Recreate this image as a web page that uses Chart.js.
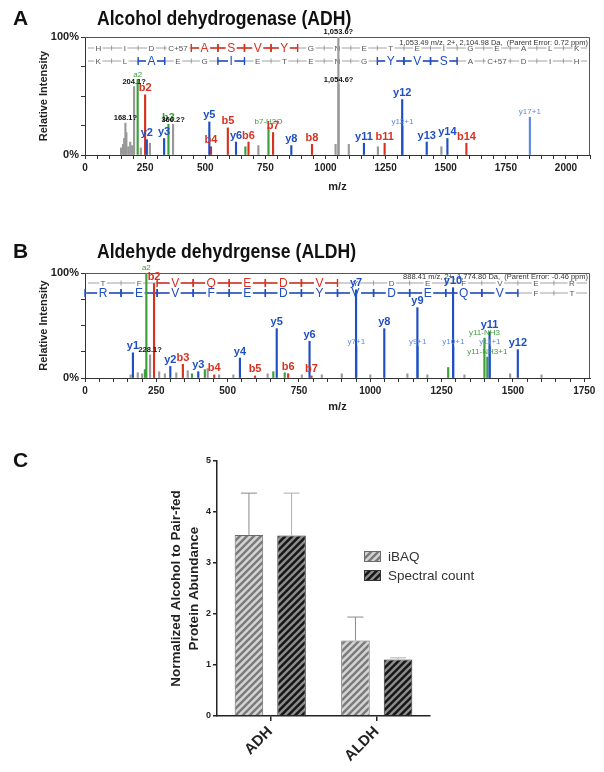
<!DOCTYPE html>
<html>
<head>
<meta charset="utf-8">
<script src="https://cdn.jsdelivr.net/npm/chart.js@4.4.0/dist/chart.umd.min.js"></script>
<style>
  body { margin: 0; background: #fff; width: 604px; height: 772px; position: relative; overflow: hidden;
         font-family: "Liberation Sans", Arial, sans-serif; color: #111; }
  canvas { position: absolute; left: 0; }
  .letter { position: absolute; font-weight: bold; font-size: 21px; line-height: 21px; z-index: 2; }
  .title { position: absolute; font-weight: bold; font-size: 20px; line-height: 20px; white-space: nowrap;
           transform: scaleX(0.88); transform-origin: left top; z-index: 2; }
</style>
</head>
<body>
<div class="letter" style="left:13px; top:7px;">A</div>
<div class="title" style="left:97px; top:8px;">Alcohol dehydrogenase (ADH)</div>
<div class="letter" style="left:13px; top:240px;">B</div>
<div class="title" style="left:97px; top:241px;">Aldehyde dehydrgense (ALDH)</div>
<div class="letter" style="left:13px; top:449px;">C</div>

<canvas id="chartA" width="604" height="200" style="top:0px;"></canvas>
<canvas id="chartB" width="604" height="184" style="top:236px;"></canvas>
<canvas id="chartC" width="604" height="332" style="top:440px;"></canvas>

<script>
// ---- Panel A: ADH spectrum (m/z, relative intensity %, ion type, label) ----
const adhMz    = [150, 158, 163, 168.1, 172, 180, 188, 196, 204.1, 219, 232, 250, 257, 270, 329, 347, 366.2,
                  517, 524, 594, 628, 667, 680, 721, 763, 782, 858, 944, 1042, 1053.6, 1054.6, 1097, 1160,
                  1218, 1246, 1319, 1320, 1421, 1482, 1507, 1586, 1850];
const adhInt   = [6, 9, 14, 27, 19, 7, 11, 8, 58, 64, 6, 51, 13, 10, 14, 26, 26,
                  28, 7, 23, 11, 7, 11, 8, 24, 19, 8, 9, 9, 100, 60, 9, 10,
                  7, 10, 47, 24, 11, 7, 14, 10, 32];
const adhIon   = ['n','n','n','n','n','n','n','n','n','g','n','b','y','n','y','g','n',
                  'y','b','b','y','g','b','n','g','b','y','b','n','n','n','n','y',
                  'n','b','y','p','y','n','y','b','p'];
const adhLabel = ['','','','168.1?','','','','','204.1?','a2','','b2','y2','','y3','b3','366.2?',
                  'y5','b4','b5','y6','','b6','','b7-H2O','b7','y8','b8','','1,053.6?','1,054.6?','','y11',
                  '','b11','y12','y12+1','y13','','y14','b14','y17+1'];
const adhSeqTop = ['H','I','D','C+57','A','S','V','Y','G','N','E','T','E','I','G','E','A','L','K'];
const adhTopHits = [4, 5, 6, 7];
const adhSeqBottom = ['K','L','A','E','G','I','E','T','E','N','G','Y','V','S','A','C+57','D','I','H'];
const adhBottomHits = [2, 5, 11, 12, 13];
const adhPrecursor = '1,053.49 m/z, 2+, 2,104.98 Da,  (Parent Error: 0.72 ppm)';

// ---- Panel B: ALDH spectrum ----
const aldhMz    = [160, 168, 185, 200, 210, 215, 228.1, 242, 260, 280, 299, 320, 343, 360, 375, 397, 420, 430,
                   453, 470, 520, 543, 596, 640, 660, 672, 700, 712, 760, 787, 794, 830, 900, 950, 951,
                   1000, 1049, 1130, 1165, 1166, 1200, 1273, 1290, 1291, 1330, 1400, 1410, 1418, 1419,
                   1490, 1517, 1600];
const aldhInt   = [3, 24, 5, 4, 8, 100, 22, 90, 6, 4, 11, 5, 13, 7, 4, 6, 8, 9,
                   3, 3, 3, 19, 2, 4, 6, 47, 5, 4, 3, 35, 2, 3, 4, 84, 30,
                   3, 47, 4, 67, 30, 3, 10, 86, 30, 3, 38, 20, 44, 30,
                   4, 27, 3];
const aldhIon   = ['n','y','n','n','g','g','n','b','n','n','y','n','b','n','g','y','g','n',
                   'b','n','n','y','b','n','g','y','g','b','n','y','b','n','n','y','p',
                   'n','y','n','y','p','n','g','y','p','n','g','g','y','p',
                   'n','y','n'];
const aldhLabel = ['','y1','','','','a2','228.1?','b2','','','y2','','b3','','','y3','','',
                   'b4','','','y4','b5','','','y5','','b6','','y6','b7','','','y7','y7+1',
                   '','y8','','y9','y9+1','','','y10','y10+1','','y11-NH3','y11-NH3+1','y11','y11+1',
                   '','y12',''];
const aldhSeqTop = ['T','F','V','Q','E','D','V','Y','D','E','F','V','E','R'];
const aldhTopHits = [2, 3, 4, 5, 6];
const aldhSeqBottom = ['R','E','V','F','E','D','Y','V','D','E','Q','V','F','T'];
const aldhBottomHits = [0, 1, 2, 3, 4, 5, 6, 7, 8, 9, 10, 11];
const aldhPrecursor = '888.41 m/z, 2+, 1,774.80 Da,  (Parent Error: -0.46 ppm)';

// ---- Panel C: normalized abundance ----
const cCategories = ['ADH', 'ALDH'];
const ibaqValues = [3.55, 1.48];
const ibaqErrors = [0.82, 0.46];
const spectralValues = [3.54, 1.11];
const spectralErrors = [0.83, 0.03];

const FONT = '"Liberation Sans", Arial, sans-serif';
const ionColor = { y: '#1f4fc2', p: '#5a8be0', b: '#d8311f', g: '#3f9e3c', n: '#999999' };
const ionOrder = ['y', 'b', 'g', 'p', 'n'];   // first one ends up on top

// labels above each peak
const peakLabels = {
  id: 'peakLabels',
  afterDatasetsDraw(chart) {
    const ctx = chart.ctx;
    chart.data.datasets.forEach((ds, i) => {
      const meta = chart.getDatasetMeta(i);
      meta.data.forEach((bar, j) => {
        const t = ds.data[j].t;
        if (!t) return;
        ctx.save();
        if (t.indexOf('?') >= 0) {
          ctx.font = 'bold 7.5px ' + FONT; ctx.fillStyle = '#111';
        } else if (/^[by]\d+$/.test(t)) {
          ctx.font = 'bold 11px ' + FONT; ctx.fillStyle = ds.backgroundColor;
        } else {
          ctx.font = '8px ' + FONT; ctx.fillStyle = ds.backgroundColor;
        }
        ctx.textAlign = 'center';
        ctx.textBaseline = 'bottom';
        ctx.fillText(t, bar.x, bar.y - 1);
        ctx.restore();
      });
    });
  }
};

// fragment ladder, frame and precursor info
function drawRow(ctx, area, row) {
  const n = row.res.length;
  const step = (area.right - area.left) / n;
  const y = area.top + row.dy;
  ctx.save();
  ctx.strokeStyle = '#8a8a8a';
  ctx.lineWidth = 0.8;
  ctx.beginPath();
  ctx.moveTo(area.left + 3, y); ctx.lineTo(area.right - 3, y);
  for (let i = 1; i < n; i++) {
    const x = area.left + i * step;
    ctx.moveTo(x, y - 2.5); ctx.lineTo(x, y + 2.5);
  }
  ctx.stroke();
  ctx.strokeStyle = row.color;
  ctx.lineWidth = 1.4;
  row.hits.forEach(i => {
    const x0 = area.left + i * step, x1 = x0 + step;
    ctx.beginPath();
    ctx.moveTo(x0, y); ctx.lineTo(x1, y);
    ctx.moveTo(x0, y - 4); ctx.lineTo(x0, y + 4);
    ctx.moveTo(x1, y - 4); ctx.lineTo(x1, y + 4);
    ctx.stroke();
  });
  ctx.textAlign = 'center';
  ctx.textBaseline = 'middle';
  row.res.forEach((r, i) => {
    const x = area.left + (i + 0.5) * step;
    const hit = row.hits.indexOf(i) >= 0;
    ctx.font = (hit ? '12px ' : '8px ') + FONT;
    const w = ctx.measureText(r).width + 3;
    ctx.fillStyle = '#fff';
    ctx.fillRect(x - w / 2, y - (hit ? 5 : 4), w, hit ? 10 : 8);
    ctx.fillStyle = hit ? row.color : '#555';
    ctx.fillText(r, x, y + 0.5);
  });
  ctx.restore();
}

const ladder = {
  id: 'ladder',
  beforeDatasetsDraw(chart, args, opts) {
    const ctx = chart.ctx, a = chart.chartArea;
    ctx.save();
    ctx.strokeStyle = '#555';
    ctx.lineWidth = 1;
    ctx.beginPath();
    ctx.moveTo(a.left, a.top + 0.5); ctx.lineTo(a.right - 0.5, a.top + 0.5); ctx.lineTo(a.right - 0.5, a.bottom);
    ctx.stroke();
    ctx.restore();
    opts.rows.forEach(r => drawRow(ctx, a, r));
    ctx.save();
    ctx.font = '7.5px ' + FONT;
    ctx.fillStyle = '#333';
    ctx.textAlign = 'right';
    ctx.textBaseline = 'top';
    ctx.fillText(opts.precursor, a.right - 2, a.top + opts.precDy);
    ctx.restore();
  }
};

function spectrumChart(id, mz, inten, ion, label, xMax, xAxisH, rows, precursor, precDy) {
  const datasets = ionOrder.map(t => ({
    label: t,
    data: mz.map((m, i) => ({ x: m, y: inten[i], t: label[i], k: ion[i] })).filter(d => d.k === t),
    backgroundColor: ionColor[t],
    barThickness: 1.5,
    grouped: false
  }));
  return new Chart(document.getElementById(id), {
    type: 'bar',
    data: { datasets: datasets },
    plugins: [ladder, peakLabels],
    options: {
      responsive: false,
      animation: false,
      layout: { padding: { top: 37, right: 14, left: 0, bottom: 0 } },
      plugins: {
        legend: { display: false },
        tooltip: { enabled: false },
        ladder: { rows: rows, precursor: precursor, precDy: precDy }
      },
      scales: {
        x: {
          type: 'linear', min: 0, max: xMax, offset: false,
          grid: { drawOnChartArea: false, offset: false, tickLength: 4, color: '#333' },
          border: { color: '#333', width: 1 },
          ticks: {
            stepSize: 50, autoSkip: false, includeBounds: false, maxRotation: 0, padding: 3, color: '#222',
            font: { family: FONT, size: 10, weight: 'bold' },
            callback: v => (v % 250 === 0 ? v : '')
          },
          title: { display: true, text: 'm/z', color: '#222', font: { family: FONT, size: 11, weight: 'bold' },
                   padding: { top: 0, bottom: 6 } },
          afterFit: s => { s.height = xAxisH; }
        },
        y: {
          min: 0, max: 100,
          grid: { drawOnChartArea: false, tickLength: 4, color: '#333' },
          border: { color: '#333', width: 1 },
          ticks: {
            stepSize: 25, padding: 2, color: '#222',
            font: { family: FONT, size: 11, weight: 'bold' },
            callback: v => (v === 100 ? '100%' : v === 0 ? '0%' : '')
          },
          title: { display: true, text: 'Relative Intensity', color: '#222',
                   font: { family: FONT, size: 11, weight: 'bold' }, padding: { top: 37, bottom: 0 } },
          afterFit: s => { s.width = 85; }
        }
      }
    }
  });
}

spectrumChart('chartA', adhMz, adhInt, adhIon, adhLabel, 2100, 45, [
  { res: adhSeqTop, hits: adhTopHits, color: ionColor.b, dy: 11 },
  { res: adhSeqBottom, hits: adhBottomHits, color: ionColor.y, dy: 24 }
], adhPrecursor, 2);

spectrumChart('chartB', aldhMz, aldhInt, aldhIon, aldhLabel, 1770, 42, [
  { res: aldhSeqTop, hits: aldhTopHits, color: ionColor.b, dy: 10 },
  { res: aldhSeqBottom, hits: aldhBottomHits, color: ionColor.y, dy: 20 }
], aldhPrecursor, 0);

// ---- Panel C ----
function stripes(bg, fg) {
  const s = 7;
  const c = document.createElement('canvas');
  c.width = s; c.height = s;
  const g = c.getContext('2d');
  g.fillStyle = bg;
  g.fillRect(0, 0, s, s);
  g.strokeStyle = fg;
  g.lineWidth = 2.4;
  g.beginPath();
  g.moveTo(-1, s + 1); g.lineTo(s + 1, -1);
  g.moveTo(-1, 1); g.lineTo(1, -1);
  g.moveTo(s - 1, s + 1); g.lineTo(s + 1, s - 1);
  g.stroke();
  return g.createPattern(c, 'repeat');
}

const errorBars = {
  id: 'errorBars',
  afterDatasetsDraw(chart) {
    const ctx = chart.ctx, yScale = chart.scales.y;
    chart.data.datasets.forEach((ds, i) => {
      chart.getDatasetMeta(i).data.forEach((bar, j) => {
        const top = yScale.getPixelForValue(ds.data[j] + ds.err[j]);
        ctx.save();
        ctx.strokeStyle = ds.errColor;
        ctx.lineWidth = 1;
        ctx.beginPath();
        ctx.moveTo(bar.x, bar.y); ctx.lineTo(bar.x, top);
        ctx.moveTo(bar.x - 8, top); ctx.lineTo(bar.x + 8, top);
        ctx.stroke();
        ctx.restore();
      });
    });
  }
};

const patternLegend = {
  id: 'patternLegend',
  afterDraw(chart, args, opts) {
    const ctx = chart.ctx, a = chart.chartArea;
    chart.data.datasets.forEach((ds, i) => {
      const x = a.left + opts.dx, y = a.top + opts.dy + i * 19;
      ctx.save();
      ctx.fillStyle = ds.backgroundColor;
      ctx.fillRect(x, y, 17, 11);
      ctx.strokeStyle = ds.borderColor;
      ctx.lineWidth = 1;
      ctx.strokeRect(x + 0.5, y + 0.5, 16, 10);
      ctx.font = '13.5px ' + FONT;
      ctx.fillStyle = '#333';
      ctx.textBaseline = 'middle';
      ctx.fillText(ds.label, x + 24, y + 6);
      ctx.restore();
    });
  }
};

new Chart(document.getElementById('chartC'), {
  type: 'bar',
  data: {
    labels: cCategories,
    datasets: [
      { label: 'iBAQ', data: ibaqValues, err: ibaqErrors, errColor: '#8a8a8a',
        backgroundColor: stripes('#d4d4d4', '#7a7a7a'), borderColor: '#6a6a6a', borderWidth: 1,
        categoryPercentage: 0.8, barPercentage: 0.67 },
      { label: 'Spectral count', data: spectralValues, err: spectralErrors, errColor: '#b0b0b0',
        backgroundColor: stripes('#161616', '#8c8c8c'), borderColor: '#333', borderWidth: 1,
        categoryPercentage: 0.8, barPercentage: 0.67 }
    ]
  },
  plugins: [errorBars, patternLegend],
  options: {
    responsive: false,
    animation: false,
    layout: { padding: { top: 21, right: 174, left: 0, bottom: 0 } },
    plugins: {
      legend: { display: false },
      tooltip: { enabled: false },
      patternLegend: { dx: 147, dy: 90 }
    },
    scales: {
      x: {
        grid: { drawOnChartArea: false, offset: false, tickLength: 5, color: '#222', lineWidth: 1.5 },
        border: { color: '#222', width: 1.5 },
        ticks: { minRotation: 45, maxRotation: 45, padding: 2, color: '#222',
                 font: { family: FONT, size: 15, weight: 'bold' } },
        afterFit: s => { s.height = 56; }
      },
      y: {
        min: 0, max: 5,
        grid: { drawOnChartArea: false, tickLength: 4, color: '#222', lineWidth: 1.5 },
        border: { color: '#222', width: 1.5 },
        ticks: { stepSize: 1, padding: 2, color: '#222', font: { family: FONT, size: 9, weight: 'bold' } },
        title: { display: true, text: ['Normalized Alcohol to Pair-fed', 'Protein Abundance'], color: '#222',
                 font: { family: FONT, size: 13.5, weight: 'bold', lineHeight: 1.33 },
                 padding: { top: 167, bottom: 0 } },
        afterFit: s => { s.width = 217; }
      }
    }
  }
});
</script>
</body>
</html>
